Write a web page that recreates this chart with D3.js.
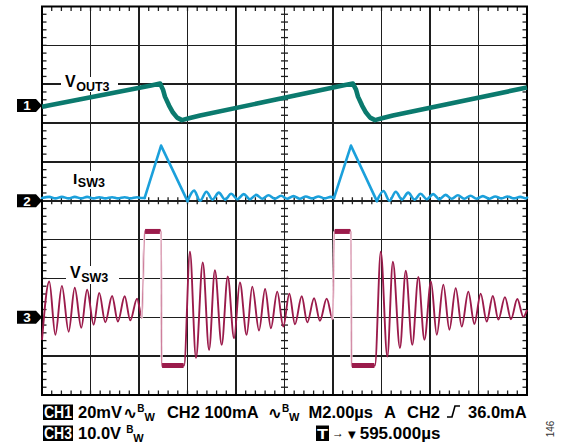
<!DOCTYPE html>
<html><head><meta charset="utf-8">
<script src="https://cdn.jsdelivr.net/npm/d3@7"></script>
<style>body{margin:0;background:#fff}svg{display:block}</style>
</head><body><svg id="c" width="569" height="446"></svg>
<script>
// ---------------- data ----------------
// CH1 : V_OUT3 (mV)
const voutTime = [0, 4.5, 4.87, 4.99, 5.07, 5.24, 5.40, 5.57, 5.77, 6.10, 6.52, 12.45, 12.82, 12.95, 13.03, 13.20, 13.36, 13.53, 13.73, 14.06, 14.47, 20];
const voutMV   = [-0.6, 10.3, 11.3, 8.2, 4.6, 0, -3.6, -6.2, -7.5, -6.4, -5.1, 10.4, 11.3, 8.2, 4.6, 0, -3.6, -6.2, -7.5, -6.4, -5.1, 9.3];
// CH2 : I_SW3 (mA)
const iswTime = [0,0.30,0.55,0.82,1.10,1.35,1.62,1.86,2.13,2.36,2.61,2.89,3.13,3.41,3.64,3.92,4.12,4.23,4.91,6.00,6.27,6.52,6.78,7.03,7.29,7.55,7.80,8.06,8.32,8.57,8.83,9.09,9.34,9.60,9.86,10.11,10.37,10.63,10.88,11.14,11.40,11.65,11.91,12.04,12.74,13.81,14.08,14.33,14.59,14.84,15.10,15.36,15.61,15.87,16.13,16.38,16.64,16.90,17.15,17.41,17.67,17.92,18.18,18.44,18.69,18.95,19.20,19.46,19.72,19.97,20];
const iswMA   = [7,10,6,10,6,10,6,10,6,9,6,9,6,9,6,9,7,7,142,-1,26,0,23,3,21,3,18,4,17,4,15,5,14,5,13,5,12,5,11,6,11,6,10,7,142,-1,25,0,23,3,21,3,18,4,17,4,15,5,14,5,13,5,12,5,11,6,11,6,10,6,8];
// CH3 : V_SW3 (V)
const vswTime = [0,0.30,0.55,0.82,1.10,1.35,1.62,1.86,2.13,2.36,2.61,2.89,3.13,3.41,3.64,3.92,4.12,4.23,4.91,4.93,5.86,6.10,6.35,6.63,6.89,7.13,7.41,7.66,7.92,8.16,8.44,8.67,8.95,9.20,9.44,9.70,9.95,10.20,10.43,10.71,10.94,11.22,11.46,11.74,11.99,12.05,12.74,12.76,13.73,13.97,14.24,14.47,14.76,15.00,15.27,15.52,15.77,16.04,16.28,16.55,16.80,17.06,17.31,17.58,17.83,18.09,18.34,18.59,18.82,19.09,19.34,19.60,19.85,20];
const vswV    = [-5.8,9.2,-4.5,8.1,-3.7,7.6,-2.7,7.1,-1.9,6.3,-1.3,5.5,-1.1,5.4,-0.8,4.8,-0.1,22.1,22.1,-12.4,-12.4,16.9,-10.4,14.1,-8.4,12.1,-7.1,10.5,-5.4,9.0,-4.5,7.9,-3.4,7.3,-2.8,6.6,-2.4,6.1,-1.8,5.4,-1.3,4.9,-0.9,4.8,-0.5,22.1,22.1,-12.4,-12.4,16.9,-10.1,14.3,-7.9,12.0,-7.1,10.4,-5.8,9.2,-4.5,8.4,-3.2,7.5,-2.4,6.6,-1.7,6.1,-1.1,5.5,-0.6,5.2,-0.5,4.7,0.1,1.9];

// channel settings: scale per division and ground offset (divisions)
const channelNames  = ["1", "2", "3"];
const channelPerDiv = [20, 100, 10];
const channelOffset = [2.45, 0, -3];

// readout text
const row1Text = ["CH1", "20mV", "CH2 100mA", "M2.00µs", "A", "CH2", "36.0mA"];
const row2Text = ["CH3", "10.0V", "T", "595.000µs"];
const sideNote = "146";

// ---------------- drawing ----------------
const svg = d3.select('#c');
const X0 = 42, X1 = 527, Y0 = 6.5, Y1 = 395;
const x = d3.scaleLinear().domain([0, 20]).range([X0, X1]);
const yDiv = d3.scaleLinear().domain([-5, 5]).range([Y1, Y0]);
const yCh = (ch, v) => yDiv(channelOffset[ch] + v / channelPerDiv[ch]);

svg.append('rect').attr('width', 569).attr('height', 446).attr('fill', '#fff');

// grid
const grid = svg.append('g').attr('stroke', '#1e1e1e').attr('stroke-width', 1.5).attr('shape-rendering', 'crispEdges');
d3.range(1, 10).forEach(i => {
  grid.append('line').attr('x1', X0).attr('x2', X1).attr('y1', yDiv(5 - i)).attr('y2', yDiv(5 - i));
  grid.append('line').attr('y1', Y0).attr('y2', Y1).attr('x1', x(i * 2)).attr('x2', x(i * 2));
});
// minor ticks
const tg = svg.append('g').attr('stroke', '#1e1e1e').attr('stroke-width', 1.3);
d3.range(1, 50).forEach(k => {
  const xx = x(k * 0.4);
  tg.append('line').attr('x1', xx).attr('x2', xx).attr('y1', Y0).attr('y2', Y0 + 4.5);
  tg.append('line').attr('x1', xx).attr('x2', xx).attr('y1', Y1 - 4.5).attr('y2', Y1);
  tg.append('line').attr('x1', xx).attr('x2', xx).attr('y1', yDiv(0) - 3.5).attr('y2', yDiv(0) + 3.5);
  const yy = yDiv(-5 + k * 0.2);
  tg.append('line').attr('y1', yy).attr('y2', yy).attr('x1', X0).attr('x2', X0 + 4.5);
  tg.append('line').attr('y1', yy).attr('y2', yy).attr('x1', X1 - 4.5).attr('x2', X1);
  tg.append('line').attr('y1', yy).attr('y2', yy).attr('x1', x(10) - 3.5).attr('x2', x(10) + 3.5);
});
svg.append('rect').attr('x', X0).attr('y', Y0).attr('width', X1 - X0).attr('height', Y1 - Y0)
  .attr('fill', 'none').attr('stroke', '#000').attr('stroke-width', 2);

// trace labels (white background breaks the grid)
const font = "'Liberation Sans', Arial, sans-serif";
function traceLabel(main, sub, lx, baseline, mainSize, subSize, bg) {
  svg.append('rect').attr('x', bg[0]).attr('y', bg[1]).attr('width', bg[2]).attr('height', bg[3]).attr('fill', '#fff');
  const t = svg.append('text').attr('x', lx).attr('y', baseline).attr('font-family', font)
    .attr('font-weight', 'bold').attr('font-size', mainSize).attr('fill', '#000');
  t.append('tspan').text(main);
  t.append('tspan').attr('dy', 3.5).attr('dx', 0.5).attr('font-size', subSize).text(sub);
}
traceLabel('V', 'OUT3', 65, 87, 16, 12.5, [61, 77, 57, 15]);
traceLabel('I', 'SW3', 73, 183.5, 15.5, 12.5, [70, 171, 40, 18]);
traceLabel('V', 'SW3', 70, 278, 16, 12.5, [66, 266, 53, 18]);

// traces
const vout = voutTime.map((t, i) => [x(t), yCh(0, voutMV[i])]);
const isw = iswTime.map((t, i) => [x(t), yCh(1, iswMA[i])]);
const vsw = vswTime.map((t, i) => [x(t), yCh(2, vswV[i])]);

// I_SW3: straight triangle pulses, smooth ripple elsewhere
const iswColor = '#1ba0db';
const peaks = iswMA.map((v, i) => v > 100 ? i : -1).filter(i => i >= 0);
let start = 0;
const pieces = [];
peaks.forEach(p => {
  pieces.push({ pts: isw.slice(start, p), curve: d3.curveMonotoneX });
  pieces.push({ pts: isw.slice(p - 1, p + 2), curve: d3.curveLinear });
  start = p + 1;
});
pieces.push({ pts: isw.slice(start), curve: d3.curveMonotoneX });
pieces.forEach(pc => {
  svg.append('path').attr('d', d3.line().curve(pc.curve)(pc.pts))
    .attr('fill', 'none').attr('stroke', iswColor).attr('stroke-width', 2.6)
    .attr('stroke-linejoin', 'round').attr('stroke-linecap', 'round');
});

const vswColor = '#9b1b4b';
svg.append('path').attr('d', d3.line().curve(d3.curveMonotoneX)(vsw))
  .attr('fill', 'none').attr('stroke', vswColor).attr('stroke-width', 1.9).attr('stroke-linejoin', 'round');
// lighter steep edges and thick noisy plateaus
for (let i = 0; i < vsw.length - 1; i++) {
  const dv = Math.abs(vswV[i + 1] - vswV[i]);
  const dt = vswTime[i + 1] - vswTime[i];
  if (dv > 20 && dt < 0.15) {
    svg.append('line').attr('x1', vsw[i][0]).attr('y1', vsw[i][1]).attr('x2', vsw[i + 1][0]).attr('y2', vsw[i + 1][1])
      .attr('stroke', '#fff').attr('stroke-width', 2.4);
    svg.append('line').attr('x1', vsw[i][0]).attr('y1', vsw[i][1]).attr('x2', vsw[i + 1][0]).attr('y2', vsw[i + 1][1])
      .attr('stroke', '#cf7f9c').attr('stroke-width', 1.1);
  }
  if (vswV[i] === vswV[i + 1]) {
    svg.append('line').attr('x1', vsw[i][0] + 0.5).attr('y1', vsw[i][1]).attr('x2', vsw[i + 1][0] - 0.5).attr('y2', vsw[i + 1][1])
      .attr('stroke', vswColor).attr('stroke-width', 5);
  }
}

svg.append('path').attr('d', d3.line().curve(d3.curveLinear)(vout))
  .attr('fill', 'none').attr('stroke', '#0b7a6e').attr('stroke-width', 4.6).attr('stroke-linejoin', 'round');

// channel markers
channelNames.forEach((n, i) => {
  const cy = yDiv(channelOffset[i]);
  svg.append('path').attr('d', `M17,${cy - 6.5}H36L42,${cy}L36,${cy + 6.5}H17Z`).attr('fill', '#000');
  svg.append('text').attr('x', 27).attr('y', cy + 4.8).attr('text-anchor', 'middle').attr('font-family', font)
    .attr('font-weight', 'bold').attr('font-size', 13.5).attr('fill', '#fff').text(n);
});

// readout rows
const rd = svg.append('g').attr('font-family', font).attr('font-weight', 'bold').attr('fill', '#000');
function layoutRow(items, startX, baseline) {
  let cx = startX;
  items.forEach(it => {
    cx += it.gap || 0;
    if (it.kind === 'box') {
      const w = it.w;
      rd.append('rect').attr('fill', '#000').attr('x', cx).attr('y', baseline - 13.5).attr('width', w).attr('height', 15.5);
      rd.append('text').attr('x', cx + 1).attr('y', baseline).attr('font-size', it.size || 16).attr('fill', '#fff')
        .attr('textLength', w - 2).attr('lengthAdjust', 'spacingAndGlyphs').text(it.text);
      cx += w;
    } else if (it.kind === 'text') {
      const t = rd.append('text').attr('x', cx).attr('y', baseline + (it.dy || 0)).attr('font-size', it.size || 16.5)
        .attr('font-family', it.family || null).attr('font-weight', it.weight || null).text(it.text);
      cx += t.node().getComputedTextLength();
    } else if (it.kind === 'edge') {
      rd.append('path').attr('d', `M${cx},${baseline - 1}H${cx + 5}L${cx + 8},${baseline - 12}H${cx + 13}`)
        .attr('fill', 'none').attr('stroke', '#000').attr('stroke-width', 1.6);
      cx += 13;
    }
  });
}
const wave = '\u223F';
layoutRow([
  { kind: 'box', text: row1Text[0], w: 30 },
  { kind: 'text', text: row1Text[1], gap: 5 },
  { kind: 'text', text: wave, gap: 1, size: 17, family: "'DejaVu Sans'", weight: 'bold', dy: 1 },
  { kind: 'text', text: 'B', size: 10, dy: -6, gap: 0 },
  { kind: 'text', text: 'W', size: 11, dy: 2.5 },
  { kind: 'text', text: row1Text[2], gap: 12 },
  { kind: 'text', text: wave, gap: 9, size: 17, family: "'DejaVu Sans'", weight: 'bold', dy: 1 },
  { kind: 'text', text: 'B', size: 10, dy: -6 },
  { kind: 'text', text: 'W', size: 11, dy: 2.5 },
  { kind: 'text', text: row1Text[3], gap: 9 },
  { kind: 'text', text: row1Text[4], gap: 11 },
  { kind: 'text', text: row1Text[5], gap: 11 },
  { kind: 'edge', gap: 7 },
  { kind: 'text', text: row1Text[6], gap: 8 }
], 43, 418);
layoutRow([
  { kind: 'box', text: row2Text[0], w: 30 },
  { kind: 'text', text: row2Text[1], gap: 5 },
  { kind: 'text', text: 'B', size: 10, dy: -6, gap: 5 },
  { kind: 'text', text: 'W', size: 11, dy: 2.5 }
], 43, 439);
layoutRow([
  { kind: 'box', text: row2Text[2], w: 13, size: 15 },
  { kind: 'text', text: '\u2192', gap: 3, size: 12, weight: 'normal', dy: -2 },
  { kind: 'text', text: '\u25BC', gap: 4, size: 10, weight: 'normal', family: "'DejaVu Sans'", dy: -1 },
  { kind: 'text', text: row2Text[3], gap: 4, size: 17 }
], 316, 439);

svg.append('text').attr('transform', 'translate(554,429) rotate(-90)').attr('text-anchor', 'middle')
  .attr('font-family', font).attr('font-size', 10).attr('fill', '#333').text(sideNote);
</script></body></html>
